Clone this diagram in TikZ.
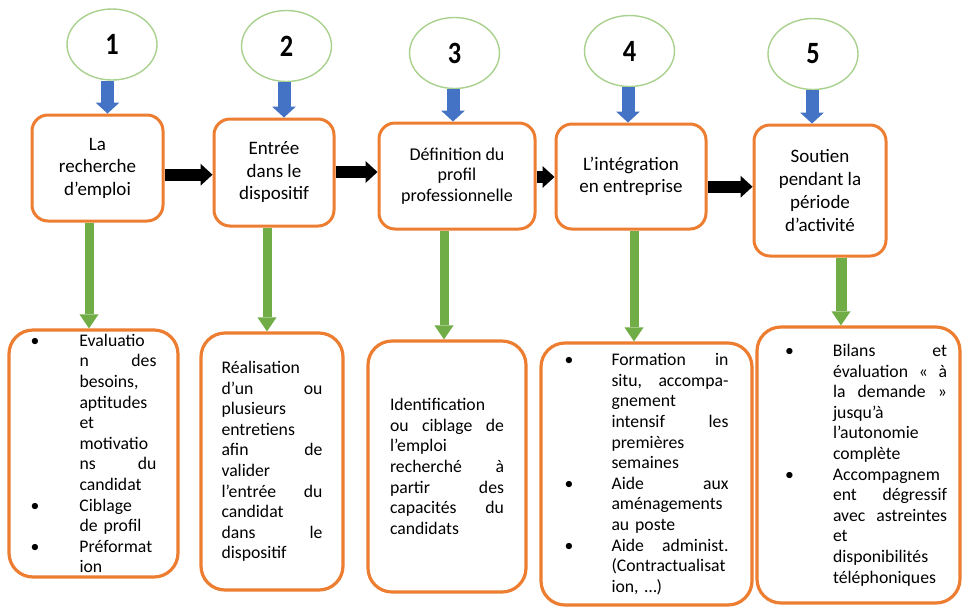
\documentclass[tikz,border=0pt]{standalone}
\usepackage{fontspec}
\setmainfont{Carlito}
\usepackage{tikz}
\usetikzlibrary{arrows.meta,positioning,shapes.geometric}

\definecolor{stageorange}{HTML}{ED7D31}
\definecolor{numgreen}{HTML}{A9D18E}
\definecolor{downblue}{HTML}{4472C4}
\definecolor{feedgreen}{HTML}{70AD47}

\newlength{\bpad}\newlength{\bcol}\newlength{\tcol}
\newcommand{\bul}{\makebox[\bcol][l]{\hspace{\bpad}\textbullet}}
\newcommand{\indt}{\makebox[\bcol]{}}
\newcommand{\jl}[1]{{\spaceskip=0pt\xspaceskip=0pt\makebox[\tcol][s]{#1}}}
\newcommand{\fl}[1]{\makebox[\tcol][l]{#1}}

\begin{document}
\begin{tikzpicture}[
  x=1pt, y=-1pt,
  num/.style={
    ellipse, draw=numgreen, line width=1.4pt, fill=white,
    minimum width=90pt, minimum height=71pt, inner sep=0pt,
    font=\fontsize{31}{34}\selectfont\bfseries
  },
  stage/.style={
    draw=stageorange, line width=3pt, rounded corners=16pt,
    align=center, inner sep=0pt, font=\fontsize{19}{22.5}\selectfont
  },
  detail/.style={
    draw=stageorange, line width=3.2pt, rounded corners=24pt,
    align=left, inner sep=0pt, font=\fontsize{17.7}{20.6}\selectfont
  },
  cols/.style n args={3}{
    execute at begin node={\setlength{\bpad}{#1}\setlength{\bcol}{#2}\setlength{\tcol}{#3}}
  },
  down/.style={draw=downblue, line width=13pt,
    -{Triangle[length=11pt, width=24pt, line width=0pt]}},
  next/.style={draw=black, line width=12pt,
    -{Triangle[length=12pt, width=22pt, line width=0pt]}},
  feed/.style={draw=feedgreen, line width=9pt,
    -{Triangle[length=14pt, width=19pt, line width=0pt]}}
]
\useasboundingbox (0,0) rectangle (963,606);

% Step numbers
\node[num] (e1) at (112,44.5) {\scalebox{0.85}[1]{1}};
\node[num] (e2) at (286.5,46) {\scalebox{0.85}[1]{2}};
\node[num] (e3) at (454.5,53) {\scalebox{0.85}[1]{3}};
\node[num] (e4) at (629.5,51) {\scalebox{0.85}[1]{4}};
\node[num] (e5) at (813,54) {\scalebox{0.85}[1]{5}};

% Stages
\node[stage, minimum width=131pt, minimum height=106pt] (t1) at (97.5,168)
  {La\\recherche\\d’emploi};
\node[stage, minimum width=120pt, minimum height=107pt] (t2) at (274,172.5)
  {Entrée\\dans le\\dispositif};
\node[stage, minimum width=156pt, minimum height=106pt,
  font=\fontsize{18}{20.5}\selectfont] (t3) at (457,176)
  {Définition du\\profil\\professionnelle};
\node[stage, minimum width=150pt, minimum height=105pt] (t4) at (631,176.5)
  {L’intégration\\en entreprise};
\node[stage, minimum width=132pt, minimum height=131pt,
  font=\fontsize{19}{23}\selectfont] (t5) at (820,190.5)
  {Soutien\\pendant la\\période\\d’activité};

% Details
\node[detail, cols={0pt}{49pt}{77pt}, text width=126pt,
  minimum width=169pt, minimum height=247pt] (b1) at (93.5,453.5) {%
\bul\fl{Evaluatio}\\
\indt\jl{n des}\\
\indt\fl{besoins,}\\
\indt\fl{aptitudes}\\
\indt\fl{et}\\
\indt\fl{motivatio}\\
\indt\jl{ns du}\\
\indt\fl{candidat}\\
\bul\fl{Ciblage}\\
\indt\fl{de profil}\\
\bul\fl{Préformat}\\
\indt\fl{ion}};

\node[detail, cols={0pt}{0pt}{101pt}, text width=101pt,
  minimum width=142pt, minimum height=257pt] (b2) at (272,461.5) {%
\fl{Réalisation}\\
\jl{d’un ou}\\
\fl{plusieurs}\\
\fl{entretiens}\\
\jl{afin de}\\
\fl{valider}\\
\jl{l’entrée du}\\
\fl{candidat}\\
\jl{dans le}\\
\fl{dispositif}};

\node[detail, cols={0pt}{0pt}{114pt}, text width=114pt,
  minimum width=158pt, minimum height=251pt] (b3) at (447,466.5) {%
\fl{Identification}\\
\jl{ou ciblage de}\\
\fl{l’emploi}\\
\jl{recherché à}\\
\jl{partir des}\\
\jl{capacités du}\\
\fl{candidats}};

\node[detail, cols={0pt}{47pt}{117pt}, text width=164pt,
  minimum width=211pt, minimum height=262pt] (b4) at (646.5,474) {%
\bul\jl{Formation in}\\
\indt\jl{situ, accompa-}\\
\indt\fl{gnement}\\
\indt\jl{intensif les}\\
\indt\fl{premières}\\
\indt\fl{semaines}\\
\bul\jl{Aide aux}\\
\indt\fl{aménagements}\\
\indt\fl{au poste}\\
\bul\jl{Aide administ.}\\
\indt\fl{(Contractualisat}\\
\indt\fl{ion, …)}};

\node[detail, cols={15pt}{63pt}{114pt}, text width=177pt,
  minimum width=203pt, minimum height=276pt] (b5) at (858.5,465) {%
\bul\jl{Bilans et}\\
\indt\jl{évaluation « à}\\
\indt\jl{la demande »}\\
\indt\fl{jusqu’à}\\
\indt\fl{l’autonomie}\\
\indt\fl{complète}\\
\bul\fl{Accompagnem}\\
\indt\jl{ent dégressif}\\
\indt\jl{avec astreintes}\\
\indt\fl{et}\\
\indt\fl{disponibilités}\\
\indt\fl{téléphoniques}};

% Blue arrows
\draw[down] ([xshift=-4.5pt]e1.south) -- ([xshift=-4.5pt]e1.south |- t1.north);
\draw[down] ([xshift=-2.5pt]e2.south) -- ([xshift=-2.5pt]e2.south |- t2.north);
\draw[down] ([xshift=-1.5pt]e3.south) -- ([xshift=-1.5pt]e3.south |- t3.north);
\draw[down] ([xshift=-1.5pt]e4.south) -- ([xshift=-1.5pt]e4.south |- t4.north);
\draw[down] ([xshift=-1pt]e5.south) -- ([xshift=-1pt]e5.south |- t5.north);

% Black arrows
\draw[next] ([yshift=-6.7pt]t1.east) -- ([yshift=-6.7pt]t1.east -| t2.west);
\draw[next] ([yshift=0.5pt]t2.east) -- ([yshift=0.5pt]t2.east -| t3.west);
\draw[next] ([yshift=-1pt]t3.east) -- ([yshift=-1pt]t3.east -| t4.west);
\draw[next] ([yshift=-10.2pt]t4.east) -- ([yshift=-10.2pt]t4.east -| t5.west);

% Green arrows
\draw[feed] ([xshift=-8.5pt]t1.south) -- ([xshift=-8.5pt]t1.south |- b1.north);
\draw[feed] ([xshift=-7pt]t2.south) -- ([xshift=-7pt]t2.south |- b2.north);
\draw[feed] ([xshift=-13pt]t3.south) -- ([xshift=-13pt]t3.south |- b3.north);
\draw[feed] ([xshift=3pt]t4.south) -- ([xshift=3pt]t4.south |- b4.north);
\draw[feed, line width=11pt] ([xshift=21pt]t5.south) -- ([xshift=21pt]t5.south |- b5.north);

\end{tikzpicture}
\end{document}
